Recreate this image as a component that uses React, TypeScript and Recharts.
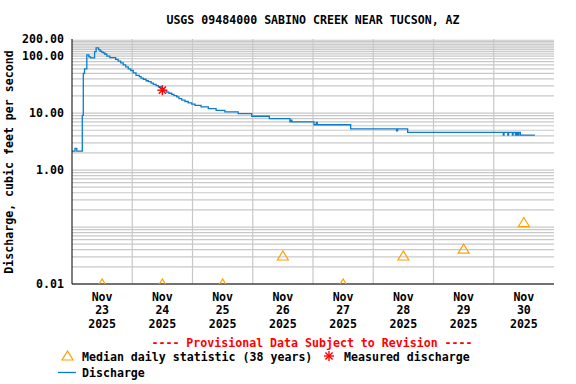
import React from "react";
import { ComposedChart, Line, Scatter, XAxis, YAxis, ReferenceLine } from "recharts";

const month = "Nov";
const year = "2025";
const days = ["23", "24", "25", "26", "27", "28", "29", "30"];

// hours since Nov 23 00:00
const flowHours = [
  0, 1.2, 1.9, 4.1, 4.5, 5.0, 5.9, 6.7, 7.4, 9.0, 9.6, 10.6, 11.2, 11.8, 12.5, 13.1, 13.9, 15.1,
  17.4, 18.4, 19.4, 20.4, 21.4, 22.4, 23.4, 24.4, 25.5, 26.8, 27.5, 28.4, 29.5, 30.4, 31.5, 32.4,
  33.5, 34.4, 35.5, 36.6, 37.7, 38.6, 39.7, 40.6, 41.7, 42.6, 43.7, 45.0, 46.3, 47.7, 49.0, 51.4,
  54.3, 57.4, 60.9, 66.2, 71.6, 78.6, 86.8, 87.2, 87.6, 96.4, 97.3, 97.7, 111.0, 129.3, 129.7,
  133.7, 171.8, 172.1, 173.6, 173.9, 175.4, 175.7, 176.6, 177.0, 177.5, 178.0, 178.6, 184.4,
];
const flowValues = [
  2.15, 2.4, 2.15, 9.1, 50, 60, 105, 97, 93, 120, 140, 130, 122, 118, 114, 108, 100, 94,
  88, 82, 76, 70, 65, 60, 56, 51, 46, 43.7, 41, 39.3, 37, 35.6, 33.5, 31.9,
  30.3, 29, 27, 24.5, 23.3, 22.3, 21.3, 20.3, 19.3, 18, 16.9, 16, 15.1, 14.4, 13.7, 12.9,
  12.0, 11.2, 10.5, 9.8, 8.8, 8.0, 7.0, 7.5, 7.0, 6.25, 6.9, 6.25, 5.3, 4.9, 5.3,
  4.6, 4.1, 4.6, 4.1, 4.6, 4.1, 4.6, 4.1, 4.6, 4.1, 4.6, 4.1, 4.1,
];

const medianHours = [12, 36, 60, 84, 108, 132, 156, 180];
const medianValues = [0.01, 0.01, 0.01, 0.031, 0.01, 0.031, 0.041, 0.12];

const measuredHours = [36.0];
const measuredValues = [25.3];

const yLabelTicks = [0.01, 1, 10, 100, 200];

const flowData = flowHours.map((t, i) => ({ t, q: flowValues[i] }));
const medianData = medianHours.map((t, i) => ({ t, q: medianValues[i] }));
const measuredData = measuredHours.map((t, i) => ({ t, q: measuredValues[i] }));

const dayTicks = days.map((_, i) => i * 24 + 12);
const midnightTicks = days.slice(1).map((_, i) => (i + 1) * 24);
const gridY: number[] = [];
[0.01, 0.1, 1, 10].forEach((d) => {
  for (let k = 1; k <= 9; k++) gridY.push(+(d * k).toPrecision(3));
});
for (let v = 100; v < 200; v += 10) gridY.push(v);

const FONT = "'DejaVu Sans Mono', monospace";
const BLUE = "#0b7bcc";
const ORANGE = "#ffa000";
const GRID = "#c8c8c8";

const Triangle = (props: any) => {
  const { cx, cy } = props;
  return (
    <polygon
      points={`${cx},${cy - 5} ${cx - 5.5},${cy + 4} ${cx + 5.5},${cy + 4}`}
      fill="none"
      stroke={ORANGE}
      strokeWidth={1.2}
    />
  );
};

const Star = (props: any) => {
  const { cx, cy } = props;
  const r = 5;
  const d = 3.6;
  return (
    <g stroke="#ff0000" strokeWidth={1.4}>
      <line x1={cx - r} y1={cy} x2={cx + r} y2={cy} />
      <line x1={cx} y1={cy - r} x2={cx} y2={cy + r} />
      <line x1={cx - d} y1={cy - d} x2={cx + d} y2={cy + d} />
      <line x1={cx - d} y1={cy + d} x2={cx + d} y2={cy - d} />
    </g>
  );
};

const DayTick = (props: any) => {
  const { x, y, payload } = props;
  const i = dayTicks.indexOf(payload.value);
  return (
    <text
      x={x}
      y={y}
      textAnchor="middle"
      fontFamily={FONT}
      fontWeight="bold"
      fontSize={11.6}
      fill="#000"
    >
      <tspan x={x} dy={9}>{month}</tspan>
      <tspan x={x} dy={13.3}>{days[i]}</tspan>
      <tspan x={x} dy={13.3}>{year}</tspan>
    </text>
  );
};

export default function App() {
  const textStyle = { fontFamily: FONT, fontWeight: "bold" as const, fontSize: 11.6 };
  return (
    <div style={{ position: "absolute", left: 0, top: 0, width: 576, height: 384, background: "#fff" }}>
      <ComposedChart width={576} height={384} margin={{ top: 39, right: 22, bottom: 50, left: 0 }}>
        <XAxis
          dataKey="t"
          type="number"
          domain={[0, 192]}
          ticks={dayTicks}
          interval={0}
          tick={<DayTick />}
          tickLine={false}
          axisLine={{ stroke: "#000" }}
          height={50}
          allowDataOverflow
        />
        <XAxis
          xAxisId="top"
          dataKey="t"
          type="number"
          orientation="top"
          domain={[0, 192]}
          tick={false}
          tickLine={false}
          axisLine={{ stroke: "#000" }}
          height={0}
        />
        <YAxis
          scale="log"
          type="number"
          domain={[0.01, 200]}
          ticks={yLabelTicks}
          interval={0}
          allowDataOverflow
          tickLine={false}
          axisLine={{ stroke: "#000" }}
          width={72}
          tickFormatter={(v: number) => v.toFixed(2)}
          tick={{ ...textStyle, fill: "#000" }}
        />
        <YAxis
          yAxisId="right"
          orientation="right"
          type="number"
          domain={[0, 1]}
          tick={false}
          tickLine={false}
          axisLine={{ stroke: "#000" }}
          width={0}
        />
        {midnightTicks.map((t) => (
          <ReferenceLine key={`x${t}`} x={t} stroke={GRID} strokeWidth={1.2} />
        ))}
        {gridY.map((v) => (
          <ReferenceLine key={`y${v}`} y={v} stroke={GRID} strokeWidth={1.2} />
        ))}
        <Line
          data={flowData}
          dataKey="q"
          type="stepAfter"
          stroke={BLUE}
          strokeWidth={1.3}
          dot={false}
          isAnimationActive={false}
        />
        <Scatter data={medianData} dataKey="q" shape={<Triangle />} isAnimationActive={false} />
        <Scatter data={measuredData} dataKey="q" shape={<Star />} isAnimationActive={false} />
      </ComposedChart>
      <svg
        width={576}
        height={384}
        style={{ position: "absolute", left: 0, top: 0, pointerEvents: "none" }}
      >
        <g {...textStyle} fill="#000">
          <text x={313} y={24} textAnchor="middle">
            USGS 09484000 SABINO CREEK NEAR TUCSON, AZ
          </text>
          <text x={13} y={162} textAnchor="middle" transform="rotate(-90 13 162)">
            Discharge, cubic feet per second
          </text>
          <text x={312} y={347} textAnchor="middle" fill="#ff0000">
            ---- Provisional Data Subject to Revision ----
          </text>
          <text x={82} y={361}>Median daily statistic (38 years)</text>
          <text x={344} y={361}>Measured discharge</text>
          <text x={82} y={377}>Discharge</text>
        </g>
        <Triangle cx={67.5} cy={356} />
        <Star cx={329} cy={356} />
        <line x1={58} y1={372.5} x2={76} y2={372.5} stroke={BLUE} strokeWidth={1.3} />
      </svg>
    </div>
  );
}
